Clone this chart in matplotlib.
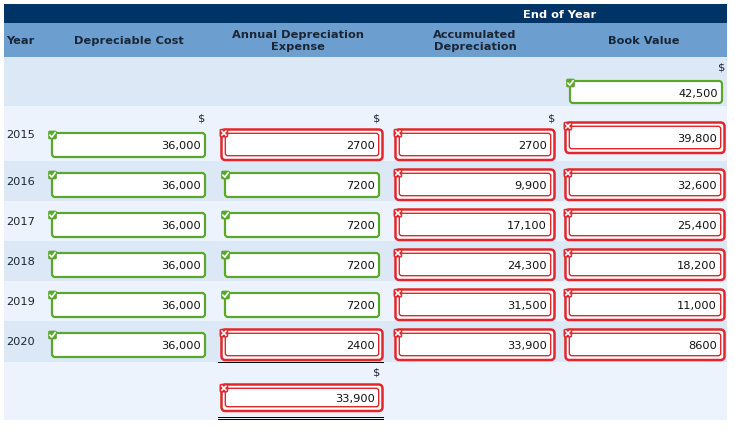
import matplotlib
matplotlib.use("Agg")
import matplotlib.pyplot as plt
from matplotlib.patches import FancyBboxPatch, Rectangle

# ---------------- data ----------------
years = [2015, 2016, 2017, 2018, 2019, 2020]
depreciable_cost = ["36,000", "36,000", "36,000", "36,000", "36,000", "36,000"]
annual_expense = ["2700", "7200", "7200", "7200", "7200", "2400"]
accumulated = ["2700", "9,900", "17,100", "24,300", "31,500", "33,900"]
book_value = ["39,800", "32,600", "25,400", "18,200", "11,000", "8600"]
dep_ok = [True, True, True, True, True, True]
annual_ok = [False, True, True, True, True, False]
accum_ok = [False, False, False, False, False, False]
book_ok = [False, False, False, False, False, False]
initial_book = "42,500"
initial_ok = True
total_expense = "33,900"
total_ok = False
headers = ["Year", "Depreciable Cost", "Annual Depreciation\nExpense",
           "Accumulated\nDepreciation", "Book Value"]
group_label = "End of Year"

# ---------------- layout ----------------
PX = 0.72  # points per pixel at dpi 100
FONT = "DejaVu Sans"
FS = 8.2
L, R = 4, 727
NAVY = "#003366"
HEAD = "#6c9fd0"
DARK = "#dde8f7"
LIGHT = "#edf3fc"
TXT = "#1a2535"
GREEN = "#5aa82a"
RED = "#e2262c"

col_dep = (52, 205)
col_ann = (225, 379)
col_acc = (399, 551)
col_book = (569, 721)

row_tops = [107, 162, 202, 242, 282, 322]
total_top, table_end = 363, 421

fig = plt.figure(figsize=(7.35, 4.39), dpi=100)
ax = fig.add_axes([0, 0, 1, 1])
ax.set_xlim(0, 735)
ax.set_ylim(439, 0)
ax.axis("off")

# top bars
ax.add_patch(Rectangle((L, 5), R - L, 19, color=NAVY, lw=0))
ax.add_patch(Rectangle((L, 24), R - L, 34, color=HEAD, lw=0))
ax.text(560, 14.5, group_label, ha="center", va="center", color="white",
        fontsize=FS, fontweight="bold", family=FONT)

hx = [6, 129, 298, 475, 644]
ha = ["left", "center", "center", "center", "center"]
for x, h, a in zip(hx, headers, ha):
    ax.text(x, 41, h, ha=a, va="center", color=TXT, fontsize=FS,
            fontweight="bold", family=FONT, linespacing=1.15)

# row backgrounds
ax.add_patch(Rectangle((L, 58), R - L, 49, color=DARK, lw=0))
for i, top in enumerate(row_tops):
    bottom = row_tops[i + 1] if i + 1 < len(row_tops) else total_top
    ax.add_patch(Rectangle((L, top), R - L, bottom - top,
                           color=DARK if i % 2 == 1 else LIGHT, lw=0))
ax.add_patch(Rectangle((L, total_top), R - L, table_end - total_top, color=LIGHT, lw=0))


def icon(cx, cy, ok):
    col = GREEN if ok else RED
    s = 4.0
    ax.add_patch(FancyBboxPatch((cx - s, cy - s), 2 * s, 2 * s,
                                boxstyle="round,pad=0,rounding_size=1.3",
                                fc=col, ec=col, lw=0.5, zorder=6))
    if ok:
        ax.plot([cx - 2.6, cx - 0.7, cx + 2.7], [cy + 0.1, cy + 2.1, cy - 2.4],
                color="white", lw=1.7 * PX, zorder=7, solid_capstyle="round")
    else:
        ax.plot([cx - 2.0, cx + 2.0], [cy - 2.0, cy + 2.0], color="white",
                lw=1.6 * PX, zorder=7)
        ax.plot([cx - 2.0, cx + 2.0], [cy + 2.0, cy - 2.0], color="white",
                lw=1.6 * PX, zorder=7)


def box(col, y0, text, ok, h=24):
    x0, x1 = col
    w = x1 - x0
    if ok:
        ax.add_patch(FancyBboxPatch((x0, y0), w, h,
                                    boxstyle="round,pad=0,rounding_size=3",
                                    fc="white", ec=GREEN, lw=2.2 * PX, zorder=3))
        icon(x0 + 0.5, y0 + 2, True)
    else:
        e = 3.5
        ax.add_patch(FancyBboxPatch((x0 - e, y0 - e), w + 2 * e, h + 2 * e - 0.5,
                                    boxstyle="round,pad=0,rounding_size=4",
                                    fc="white", ec=RED, lw=2.5 * PX, zorder=3))
        ax.add_patch(FancyBboxPatch((x0 + 0.3, y0 + 0.3), w - 0.6, h - 1.6,
                                    boxstyle="round,pad=0,rounding_size=2.5",
                                    fc="white", ec=RED, lw=1.4 * PX, zorder=4))
        icon(x0 - e + 2.4, y0 - e + 3.6, False)
    ax.text(x1 - 4, y0 + h / 2 + 0.5, text, ha="right", va="center",
            color="#111111", fontsize=FS, family=FONT, zorder=8)


def dollar(xr, y):
    ax.text(xr, y, "$", ha="right", va="center", color=TXT, fontsize=FS,
            family=FONT, zorder=8)


# initial book value row
dollar(725, 67)
box((570, 722), 82, initial_book, initial_ok, h=22)

# yearly rows
for i, yr in enumerate(years):
    top = row_tops[i]
    if i == 0:
        y0 = 134
        ty = 135
        dollar(205, 119)
        dollar(380, 119)
        dollar(555, 119)
        yb = 127
    else:
        y0 = top + 12
        ty = top + 20.5
        yb = y0
    ax.text(6, ty, str(yr), ha="left", va="center", color=TXT, fontsize=FS,
            family=FONT)
    box(col_dep, y0, depreciable_cost[i], dep_ok[i])
    box(col_ann, y0, annual_expense[i], annual_ok[i])
    box(col_acc, y0, accumulated[i], accum_ok[i])
    box(col_book, yb, book_value[i], book_ok[i])

# single underline below last annual expense
ax.plot([218, 383], [362.5, 362.5], color="black", lw=1.0 * PX, zorder=9)

# total row
dollar(380, 373)
box(col_ann, 389, total_expense, total_ok, h=20)
ax.plot([218, 383], [418, 418], color="black", lw=1.0 * PX, zorder=9)
ax.plot([218, 383], [420.5, 420.5], color="black", lw=1.0 * PX, zorder=9)

fig.savefig("out.png", dpi=100, facecolor="white")
